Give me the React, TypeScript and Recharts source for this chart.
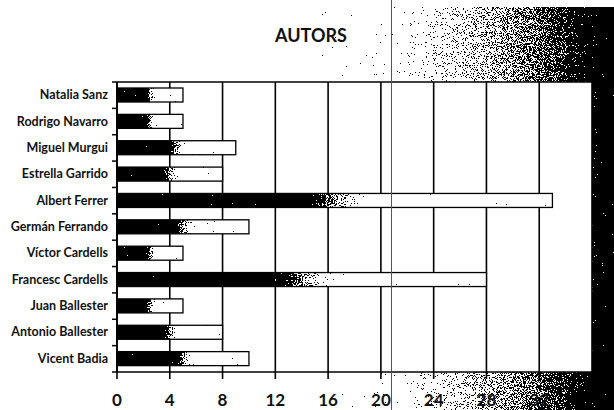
import React from 'react'
import { Bar, BarChart, CartesianGrid, XAxis, YAxis } from 'recharts'

const categories = [
  'Natalia Sanz',
  'Rodrigo Navarro',
  'Miguel Murgui',
  'Estrella Garrido',
  'Albert Ferrer',
  'Germán Ferrando',
  'Víctor Cardells',
  'Francesc Cardells',
  'Juan Ballester',
  'Antonio Ballester',
  'Vicent Badia',
]
const values = [5, 5, 9, 8, 33, 10, 5, 28, 5, 8, 10]
const xTicks = [0, 4, 8, 12, 16, 20, 24, 28, 32]

const data = categories.map((name, i) => ({ name, value: values[i] }))

const W = 614
const H = 410
const margin = { top: 82, right: 22, bottom: 0, left: 0 }
const plotLeft = 117
const band = (H - margin.top - 38) / categories.length

function CategoryTick({ y, payload, index }: any) {
  return (
    <g>
      <line x1={plotLeft - 5} x2={plotLeft} y1={y - band / 2} y2={y - band / 2} stroke="#000" strokeWidth={1.5} />
      {index === categories.length - 1 && (
        <line x1={plotLeft - 5} x2={plotLeft} y1={y + band / 2} y2={y + band / 2} stroke="#000" strokeWidth={1.5} />
      )}
      <text
        x={108}
        y={y + 4}
        textAnchor="end"
        fontSize={12.5}
        fontWeight={700}
        fontFamily="Lato, sans-serif"
        fill="#111"
      >
        {payload.value}
      </text>
    </g>
  )
}

function ValueTick({ x, payload }: any) {
  return (
    <text x={x} y={406} textAnchor="middle" fontSize={17} fontWeight={700} fontFamily="Lato, sans-serif" fill="#111">
      {payload.value}
    </text>
  )
}

function GradBar({ x, y, width, height }: any) {
  if (!width || width <= 0) return null
  return (
    <g>
      <rect x={x} y={y} width={width} height={height} fill="url(#barGrad)" filter="url(#barDither)" />
      <rect x={x} y={y} width={width} height={height} fill="none" stroke="#000" strokeWidth={1.3} />
    </g>
  )
}

// scanned-paper shading on the right: a grey ramp turned into black/white speckles
function Background() {
  const x0 = 320
  return (
    <svg width={W} height={H} style={{ position: 'absolute', left: 0, top: 0 }}>
      <defs>
        <linearGradient id="bgGrad" x1="0" x2="1" y1="0" y2="0">
          <stop offset="0" stopColor="#fff" />
          <stop offset="0.12" stopColor="#fcfcfc" />
          <stop offset="0.24" stopColor="#f0f0f0" />
          <stop offset="0.39" stopColor="#c8c8c8" />
          <stop offset="0.52" stopColor="#a8a8a8" />
          <stop offset="0.64" stopColor="#8c8c8c" />
          <stop offset="0.75" stopColor="#6e6e6e" />
          <stop offset="0.83" stopColor="#505050" />
          <stop offset="0.9" stopColor="#222" />
          <stop offset="1" stopColor="#000" />
        </linearGradient>
        <filter id="bgDither" x="0" y="0" width="100%" height="100%" colorInterpolationFilters="sRGB">
          <feTurbulence type="fractalNoise" baseFrequency="1.1" numOctaves="2" seed="7" result="n" />
          <feColorMatrix
            in="n"
            type="matrix"
            values="1 0 0 0 0  1 0 0 0 0  1 0 0 0 0  0 0 0 0 1"
            result="g"
          />
          <feComposite in="SourceGraphic" in2="g" operator="arithmetic" k1="0" k2="1" k3="1.6" k4="-0.8" />
          <feComponentTransfer>
            <feFuncR type="discrete" tableValues="0 1" />
            <feFuncG type="discrete" tableValues="0 1" />
            <feFuncB type="discrete" tableValues="0 1" />
          </feComponentTransfer>
        </filter>
      </defs>
      <rect x={x0} y={7} width={W - x0} height={H - 7} fill="url(#bgGrad)" filter="url(#bgDither)" />
    </svg>
  )
}

export default function App() {
  return (
    <div style={{ position: 'absolute', left: 0, top: 0, width: W, height: H, background: '#fff', overflow: 'hidden' }}>
      <Background />
      <div
        style={{
          position: 'absolute',
          left: 0,
          top: 24,
          width: 622,
          textAlign: 'center',
          fontFamily: 'Lato, sans-serif',
          fontWeight: 700,
          fontSize: 18,
          color: '#111',
        }}
      >
        AUTORS
      </div>
      <div style={{ position: 'absolute', left: 0, top: 0 }}>
        <BarChart width={W} height={H} data={data} layout="vertical" margin={margin} barSize={14}>
          <defs>
            <linearGradient id="barGrad" x1="0" x2="1" y1="0" y2="0">
              <stop offset="0" stopColor="#000" />
              <stop offset="0.42" stopColor="#000" />
              <stop offset="0.5" stopColor="#888" />
              <stop offset="0.6" stopColor="#fff" />
              <stop offset="1" stopColor="#fff" />
            </linearGradient>
            <filter id="barDither" colorInterpolationFilters="sRGB">
              <feTurbulence type="fractalNoise" baseFrequency="0.9" numOctaves="2" seed="3" result="n" />
              <feColorMatrix
                in="n"
                type="matrix"
                values="0.33 0.33 0.33 0 0  0.33 0.33 0.33 0 0  0.33 0.33 0.33 0 0  0 0 0 0 1"
                result="g"
              />
              <feComposite in="SourceGraphic" in2="g" operator="arithmetic" k1="0" k2="1" k3="2.5" k4="-1.25" result="m" />
              <feComponentTransfer in="m" result="t">
                <feFuncR type="discrete" tableValues="0 1" />
                <feFuncG type="discrete" tableValues="0 1" />
                <feFuncB type="discrete" tableValues="0 1" />
              </feComponentTransfer>
              <feComposite in="t" in2="SourceGraphic" operator="in" />
            </filter>
          </defs>
          <CartesianGrid
            fill="#fff"
            stroke="#000"
            strokeWidth={1.6}
            horizontalPoints={[margin.top]}
            vertical
          />
          <XAxis
            type="number"
            domain={[0, 36]}
            ticks={xTicks}
            interval={0}
            height={38}
            tickSize={7}
            axisLine={{ stroke: '#000', strokeWidth: 1.6 }}
            tickLine={{ stroke: '#000', strokeWidth: 1.6 }}
            tick={<ValueTick />}
          />
          <YAxis
            type="category"
            dataKey="name"
            width={117}
            axisLine={{ stroke: '#000', strokeWidth: 1.6 }}
            tickLine={false}
            tick={<CategoryTick />}
          />
          <Bar dataKey="value" isAnimationActive={false} shape={<GradBar />} />
        </BarChart>
      </div>
      <div style={{ position: 'absolute', left: 391, top: 0, width: 1, height: H, background: '#555' }} />
    </div>
  )
}
